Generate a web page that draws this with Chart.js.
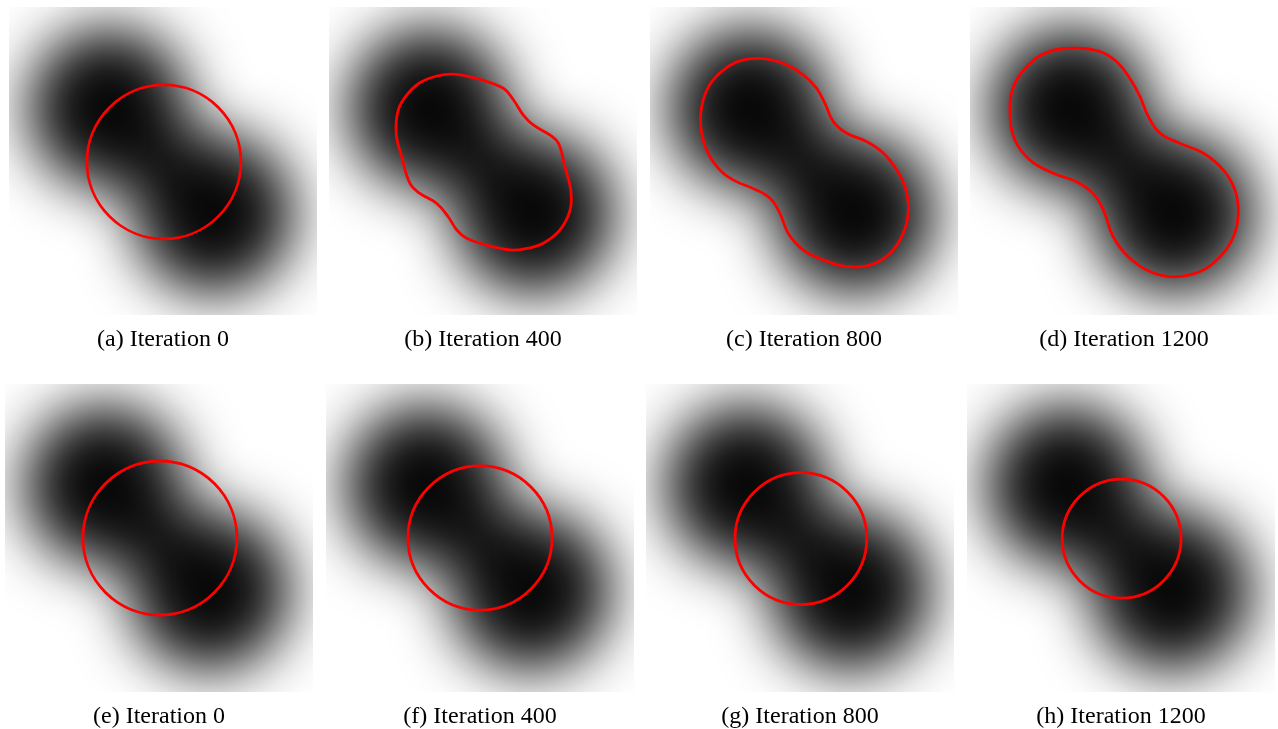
<!DOCTYPE html>
<html>
<head>
<meta charset="utf-8">
<script src="https://cdn.jsdelivr.net/npm/chart.js@4.4.1/dist/chart.umd.min.js"></script>
<style>
  html, body { margin: 0; padding: 0; background: #ffffff; width: 1278px; height: 729px; overflow: hidden; }
  .panel { position: absolute; width: 308px; height: 350px; }
  .panel canvas { display: block; }
</style>
</head>
<body>
<div class="panel" style="left:9px;top:7px"><canvas id="c0" width="308" height="350"></canvas></div>
<div class="panel" style="left:329px;top:7px"><canvas id="c1" width="308" height="350"></canvas></div>
<div class="panel" style="left:650px;top:7px"><canvas id="c2" width="308" height="350"></canvas></div>
<div class="panel" style="left:970px;top:7px"><canvas id="c3" width="308" height="350"></canvas></div>
<div class="panel" style="left:5px;top:384px"><canvas id="c4" width="308" height="350"></canvas></div>
<div class="panel" style="left:326px;top:384px"><canvas id="c5" width="308" height="350"></canvas></div>
<div class="panel" style="left:646px;top:384px"><canvas id="c6" width="308" height="350"></canvas></div>
<div class="panel" style="left:967px;top:384px"><canvas id="c7" width="308" height="350"></canvas></div>

<script>
// ---- captions ----
const panelLetters = ['a', 'b', 'c', 'd', 'e', 'f', 'g', 'h'];
const iterations   = [0, 400, 800, 1200, 0, 400, 800, 1200];

// ---- target image: two dark discs, smoothed (image coords 0-100, y downward) ----
const blobCenterX = [32.4, 66.4];
const blobCenterY = [32.9, 67.0];
const blobRadius  = [26.0, 26.0];
const blobSpread  = 9.5;   // gaussian smoothing width

// ---- circular contours (null where the contour is free-form) ----
const circleCenterX = [50.3, null, null, null, 50.3, 50.0, 50.3, 50.2];
const circleCenterY = [50.3, null, null, null, 50.0, 50.0, 50.2, 50.2];
const circleRadius  = [25.0, null, null, null, 25.0, 23.4, 21.4, 19.3];

// ---- free-form contours, top row ----
const contour400X = [40.4, 47.9, 56.6, 59.9, 63.1, 66.3, 71.8, 74.5, 76.6, 78.5, 78.3, 75.0, 69.6, 64.2,
                     58.8, 51.2, 44.7, 41.5, 38.7, 35.0, 29.5, 26.3, 23.6, 21.8, 22.5, 25.2, 29.5, 35.0];
const contour400Y = [21.8, 23.2, 26.4, 30.2, 35.1, 38.3, 41.6, 44.3, 51.8, 59.4, 65.9, 72.4, 76.7, 78.4,
                     78.9, 77.3, 75.1, 72.4, 68.1, 63.8, 60.5, 57.3, 48.6, 41.0, 33.4, 28.6, 24.6, 22.4];

const contour800X = [35.7, 43.3, 49.8, 54.1, 56.8, 59.5, 63.9, 70.3, 75.8, 80.1, 82.8, 83.9, 82.2, 77.9, 71.4,
                     63.9, 56.3, 49.8, 44.9, 42.2, 39.0, 33.5, 28.1, 23.3, 18.9, 16.6, 16.8, 19.4, 24.0, 29.4];
const contour800Y = [16.7, 18.3, 22.1, 26.4, 31.3, 37.2, 41.0, 43.7, 47.5, 52.9, 58.3, 65.9, 73.5, 80.0, 83.8,
                     84.3, 82.1, 78.9, 73.5, 67.0, 62.1, 58.9, 56.7, 53.5, 47.5, 39.9, 32.2, 25.2, 20.3, 17.4];

const contour1200X = [34.1, 42.2, 47.6, 51.9, 55.2, 57.9, 61.7, 68.2, 75.8, 82.2, 86.0, 87.1, 85.5, 81.2, 74.7,
                      66.0, 58.4, 51.4, 46.5, 43.3, 40.0, 34.6, 27.1, 19.5, 14.6, 13.0, 14.1, 18.4, 24.9];
const contour1200Y = [13.4, 14.5, 17.8, 23.2, 29.1, 35.6, 41.0, 44.3, 47.5, 52.9, 59.4, 67.0, 74.6, 81.1, 85.9,
                      87.6, 85.9, 81.1, 74.6, 65.9, 60.5, 56.7, 54.0, 49.7, 43.2, 34.5, 25.9, 19.4, 14.8];

const contourX = [null, contour400X, contour800X, contour1200X, null, null, null, null];
const contourY = [null, contour400Y, contour800Y, contour1200Y, null, null, null, null];

const CONTOUR_RED = '#ff0000';
const CONTOUR_WIDTH = 2.8;

// Smoothed two-disc intensity image painted behind the contour
const targetImagePlugin = {
  id: 'targetImage',
  beforeDatasetsDraw(chart) {
    const { ctx, chartArea: area, scales: { x, y } } = chart;
    const w = Math.round(area.right - area.left);
    const h = Math.round(area.bottom - area.top);
    const layer = document.createElement('canvas');
    layer.width = w;
    layer.height = h;
    const lctx = layer.getContext('2d');
    lctx.fillStyle = '#080808';
    for (let i = 0; i < blobCenterX.length; i++) {
      const cx = x.getPixelForValue(blobCenterX[i]) - area.left;
      const cy = y.getPixelForValue(blobCenterY[i]) - area.top;
      const r = x.getPixelForValue(blobCenterX[i] + blobRadius[i]) - x.getPixelForValue(blobCenterX[i]);
      lctx.beginPath();
      lctx.arc(cx, cy, r, 0, Math.PI * 2);
      lctx.fill();
    }
    const sigma = x.getPixelForValue(blobSpread) - x.getPixelForValue(0);
    ctx.save();
    ctx.beginPath();
    ctx.rect(area.left, area.top, w, h);
    ctx.clip();
    ctx.fillStyle = '#ffffff';
    ctx.fillRect(area.left, area.top, w, h);
    ctx.filter = 'blur(' + sigma.toFixed(2) + 'px)';
    ctx.drawImage(layer, area.left, area.top);
    ctx.restore();
  },
  afterDatasetsDraw(chart, args, opts) {
    const k = opts.panel;
    if (circleRadius[k] == null) return;
    const { ctx, chartArea: area, scales: { x, y } } = chart;
    const cx = x.getPixelForValue(circleCenterX[k]);
    const cy = y.getPixelForValue(circleCenterY[k]);
    const r = x.getPixelForValue(circleCenterX[k] + circleRadius[k]) - cx;
    ctx.save();
    ctx.beginPath();
    ctx.rect(area.left, area.top, area.right - area.left, area.bottom - area.top);
    ctx.clip();
    ctx.strokeStyle = CONTOUR_RED;
    ctx.lineWidth = CONTOUR_WIDTH;
    ctx.beginPath();
    ctx.arc(cx, cy, r, 0, Math.PI * 2);
    ctx.stroke();
    ctx.restore();
  }
};

// Closed curve: wrap the ring so every visible segment has neighbours on both sides
function closedRing(xs, ys) {
  const pts = xs.map((v, i) => ({ x: v, y: ys[i] }));
  const n = pts.length;
  return [pts[n - 1], ...pts, pts[0], pts[1]];
}

for (let k = 0; k < 8; k++) {
  const datasets = [];
  if (contourX[k]) {
    const ring = closedRing(contourX[k], contourY[k]);
    const last = ring.length - 1;
    datasets.push({
      data: ring,
      showLine: true,
      borderColor: CONTOUR_RED,
      borderWidth: CONTOUR_WIDTH,
      pointRadius: 0,
      tension: 0.4,
      fill: false,
      segment: {
        borderColor: c => (c.p0DataIndex === 0 || c.p1DataIndex === last) ? 'rgba(0,0,0,0)' : CONTOUR_RED
      }
    });
  }
  new Chart(document.getElementById('c' + k), {
    type: 'scatter',
    data: { datasets },
    plugins: [targetImagePlugin],
    options: {
      responsive: false,
      maintainAspectRatio: false,
      animation: false,
      events: [],
      layout: { padding: 0 },
      scales: {
        x: { type: 'linear', min: 0, max: 100, display: false },
        y: { type: 'linear', min: 0, max: 100, reverse: true, display: false }
      },
      plugins: {
        legend: { display: false },
        tooltip: { enabled: false },
        targetImage: { panel: k },
        title: {
          display: true,
          position: 'bottom',
          text: '(' + panelLetters[k] + ') Iteration ' + iterations[k],
          color: '#000000',
          font: { family: "'Liberation Serif', 'Times New Roman', serif", size: 24, weight: 'normal', lineHeight: 1.2 },
          padding: { top: 10.5, bottom: 2.7 }
        }
      }
    }
  });
}
</script>
</body>
</html>
